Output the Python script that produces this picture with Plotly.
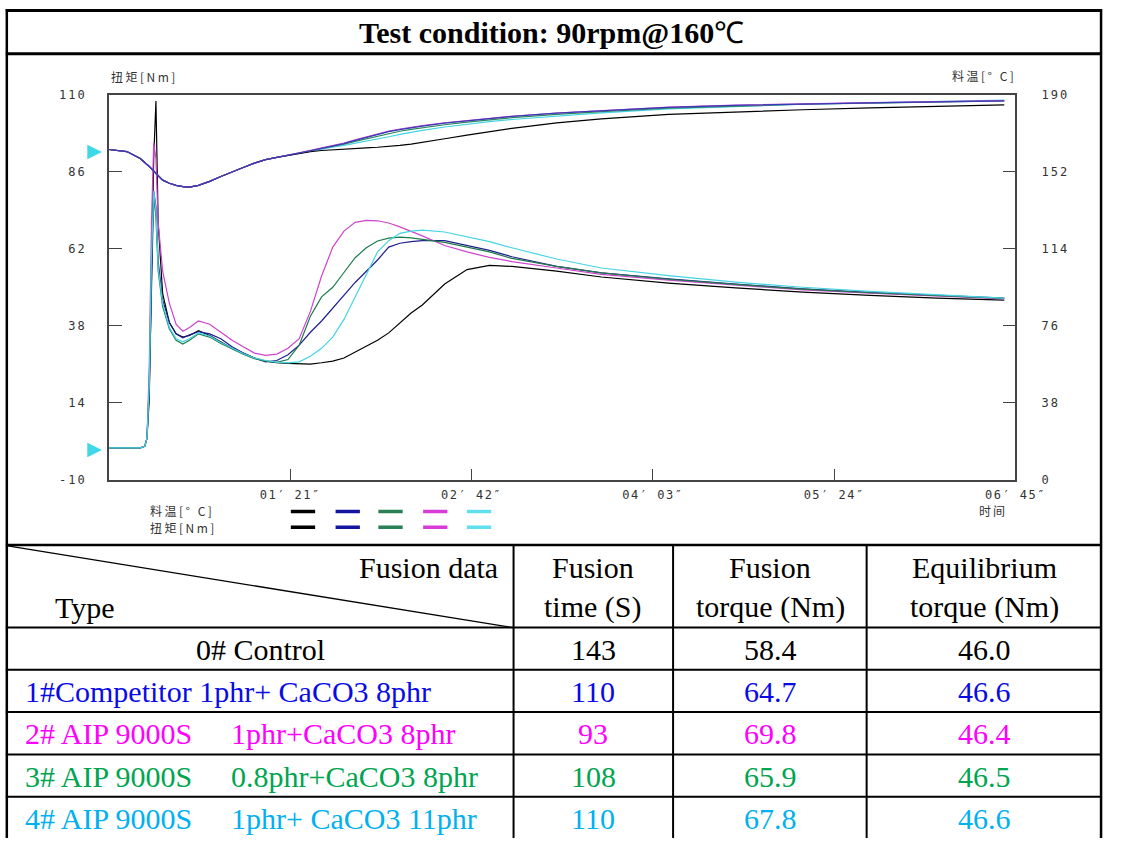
import plotly.graph_objects as go

W, H = 1134, 845

# ---------------- data ----------------
time_s = [0, 8, 14, 16, 17, 18, 19, 20, 21, 22, 24, 27, 30, 33, 36, 40, 45, 50, 55, 60,
          65, 70, 75, 80, 85, 90, 95, 100, 105, 110, 115, 120, 125, 130, 135, 140, 150, 160,
          170, 180, 200, 220, 250, 280, 310, 340, 370, 400]

# torque [Nm]
torque_0 = [0, 0, 0, 0.5, 3, 15, 50, 90, 108, 70, 48, 39, 35.5, 34.5, 35, 36.5, 35, 33, 31, 29.5,
            28, 27, 26.5, 26.3, 26.1, 26.1, 26.5, 27, 28, 29.8, 31.5, 33.5, 35.8, 39, 42, 44.5, 51, 55.5,
            56.8, 56.5, 55, 53.2, 51.3, 49.8, 48.5, 47.5, 46.6, 46.0]
torque_1 = [0, 0, 0, 0.5, 3, 18, 55, 80, 75, 58, 46, 39, 35.5, 34.3, 35.2, 36.2, 35.5, 34, 31.5, 29.5,
            28, 26.8, 27.2, 29, 32, 36, 39.5, 43.5, 47.5, 51.5, 55, 58.5, 62.5, 63.7, 64.2, 64.5, 64.5, 63,
            61.5, 59.5, 56.5, 54.5, 52.6, 51, 49.5, 48.4, 47.4, 46.6]
torque_2 = [0, 0, 0, 0.5, 3, 25, 70, 95, 90, 70, 55, 45, 38.5, 36.3, 37.5, 39.5, 38.5, 36, 33.5, 31.5,
            29.5, 28.8, 29.2, 31, 34, 42.5, 53.5, 62.5, 67.5, 70.2, 70.8, 70.7, 70, 68.8, 67.5, 66, 63, 61,
            59.3, 58, 56, 54, 52.2, 50.6, 49.2, 48.2, 47.2, 46.4]
torque_3 = [0, 0, 0, 0.5, 3, 20, 58, 78, 72, 55, 44, 37, 33.5, 32.3, 33.5, 35.5, 34.5, 32.5, 30.8, 29.2,
            27.8, 27, 26.6, 27.5, 32, 41, 47, 50, 54.6, 59.2, 62.3, 64.4, 65.3, 65.6, 65.4, 65, 64, 62.5,
            61, 59, 56.5, 54.5, 52.5, 50.9, 49.4, 48.3, 47.3, 46.5]
torque_4 = [0, 0, 0, 0.5, 3, 20, 60, 80, 74, 56, 45, 37.5, 34, 33, 34, 35.8, 34.8, 32.8, 31, 29.4,
            28, 27.2, 26.7, 26.5, 26.8, 28.5, 31, 34.5, 40, 47, 54.5, 61, 64.5, 66.8, 67.5, 67.8, 67.2, 65.8,
            64.2, 62.3, 58.8, 56, 53.6, 51.6, 50, 48.7, 47.6, 46.6]

# stock temperature [deg C]
temp_0 = [162.9, 161.9, 158.5, 156.2, 155.5, 154.5, 153.4, 152, 151, 150, 147.8, 146.3, 145.2, 144.6, 144.4, 145.2, 147.2, 149.6, 152, 154,
          156.2, 157.9, 159, 160, 161, 161.8, 162.4, 162.8, 163.1, 163.4, 163.7, 164.0, 164.3, 164.9, 165.6, 166.4, 168.2, 170.0,
          171.7, 173.3, 176.0, 178.0, 180.2, 181.5, 182.5, 183.4, 184.2, 184.9]
temp_1 = [162.9, 161.9, 158.5, 156.2, 155.5, 154.5, 153.4, 152, 151, 150, 147.8, 146.3, 145.2, 144.6, 144.4, 145.2, 147.2, 149.6, 152, 154,
          156.2, 157.9, 159, 160, 161.2, 162.3, 163.5, 164.6, 165.8, 167.4, 168.8, 170.3, 171.7, 172.7, 173.6, 174.4, 175.9, 177.0,
          178.2, 179.2, 180.8, 182.1, 183.7, 184.7, 185.4, 185.9, 186.4, 186.9]
temp_2 = [162.9, 161.9, 158.5, 156.2, 155.5, 154.5, 153.4, 152, 151, 150, 147.8, 146.3, 145.2, 144.6, 144.4, 145.2, 147.2, 149.6, 152, 154,
          156.2, 157.9, 159, 160, 161.3, 162.5, 163.7, 164.9, 166.1, 167.7, 169.1, 170.6, 172.0, 173.0, 173.9, 174.7, 176.1, 177.2,
          178.3, 179.3, 180.9, 182.2, 183.8, 184.8, 185.5, 186.0, 186.5, 187.0]
temp_3 = [162.9, 161.9, 158.5, 156.2, 155.5, 154.5, 153.4, 152, 151, 150, 147.8, 146.3, 145.2, 144.6, 144.4, 145.2, 147.2, 149.6, 152, 154,
          156.2, 157.9, 159, 160, 161.2, 162.3, 163.4, 164.4, 165.5, 166.9, 168.2, 169.6, 170.9, 171.9, 172.8, 173.6, 175.1, 176.4,
          177.6, 178.6, 180.2, 181.6, 183.3, 184.4, 185.2, 185.8, 186.3, 186.8]
temp_4 = [162.9, 161.9, 158.5, 156.2, 155.5, 154.5, 153.4, 152, 151, 150, 147.8, 146.3, 145.2, 144.6, 144.4, 145.2, 147.2, 149.6, 152, 154,
          156.2, 157.9, 159, 160, 161.2, 162.3, 163.3, 164.0, 164.9, 165.9, 166.9, 168.0, 169.2, 170.4, 171.4, 172.3, 174.0, 175.4,
          176.6, 177.7, 179.5, 181.0, 182.9, 184.2, 185.2, 185.9, 186.6, 187.2]

# series order: 0# control, 1# competitor, 2# (magenta), 3# (green), 4# (cyan)
line_colors = ["#000000", "#1E1E8C", "#CC44CC", "#1F7A4D", "#44D4E4"]
temp_colors = ["#000000", "#3A3AB8", "#C848C8", "#2A8A5A", "#44D4E4"]
# legend strip order as on the instrument: black, blue, green, magenta, cyan
legend_colors = ["#000000", "#1414A0", "#2A7F55", "#D83CD8", "#60E0EE"]

torque_ticks = [-10, 14, 38, 62, 86, 110]
temp_ticks = [0, 38, 76, 114, 152, 190]
time_ticks = [81, 162, 243, 324, 405]
time_labels = ["01′ 21″", "02′ 42″", "04′ 03″", "05′ 24″", "06′ 45″"]

title_main = "Test condition: 90rpm@160"
title_unit = "℃"
header_col1_top = "Fusion data"
header_col1_bottom = "Type"
header_top = ["Fusion", "Fusion", "Equilibrium"]
header_bottom = ["time (S)", "torque (Nm)", "torque (Nm)"]
type_part1 = ["0# Control", "1#Competitor 1phr+ CaCO3 8phr", "2# AIP 9000S", "3# AIP 9000S", "4# AIP 9000S"]
type_part2 = ["", "", "1phr+CaCO3 8phr", "0.8phr+CaCO3 8phr", "1phr+ CaCO3 11phr"]
fusion_time = ["143", "110", "93", "108", "110"]
fusion_torque = ["58.4", "64.7", "69.8", "65.9", "67.8"]
equil_torque = ["46.0", "46.6", "46.4", "46.5", "46.6"]
row_colors = ["#000000", "#0A0AE6", "#FF00FF", "#00A550", "#00B0F0"]

# ---------------- helpers ----------------
def px(x):
    return x / W

def py(y):
    return 1 - y / H

def spaced(s, sp=1.5):
    return '<span style="letter-spacing:%spx">%s</span>' % (sp, s)

torques = [torque_0, torque_1, torque_2, torque_3, torque_4]
temps = [temp_0, temp_1, temp_2, temp_3, temp_4]

fig = go.Figure()

# temperature traces: blue drawn last (on top), as on the instrument print
for i in (4, 3, 0, 2, 1):
    fig.add_trace(go.Scatter(x=time_s, y=temps[i], mode="lines", yaxis="y2",
                             line=dict(color=temp_colors[i], width=1.2), hoverinfo="skip"))
for i in range(5):
    fig.add_trace(go.Scatter(x=time_s, y=torques[i], mode="lines", yaxis="y",
                             line=dict(color=line_colors[i], width=1.2), hoverinfo="skip"))

tickfont = dict(family="DejaVu Sans Mono", size=12, color="#333333")
axis_line = "#444444"

fig.update_layout(
    width=W, height=H,
    margin=dict(l=0, r=0, t=0, b=0),
    paper_bgcolor="white", plot_bgcolor="white",
    showlegend=False,
    xaxis=dict(domain=[px(112), px(1044)], range=[0, 405], tickvals=time_ticks,
               ticktext=[spaced(s, 1.5) for s in time_labels],
               showline=True, linecolor=axis_line, linewidth=1.5, mirror=True,
               ticks="inside", ticklen=11, tickcolor=axis_line, tickwidth=1.2,
               showgrid=False, zeroline=False, tickfont=tickfont, ticklabelstandoff=3),
    yaxis=dict(domain=[py(481), py(89)], range=[-10, 110], tickvals=torque_ticks,
               ticktext=[spaced(str(v), 2) for v in torque_ticks],
               showline=True, linecolor=axis_line, linewidth=1.5,
               ticks="inside", ticklen=13, tickcolor=axis_line, tickwidth=1.2,
               showgrid=False, zeroline=False, tickfont=tickfont, ticklabelstandoff=18),
    yaxis2=dict(domain=[py(481), py(89)], range=[0, 190], tickvals=temp_ticks, overlaying="y", side="right",
                ticktext=[spaced(str(v), 2) for v in temp_ticks],
                showline=True, linecolor=axis_line, linewidth=1.5,
                ticks="inside", ticklen=13, tickcolor=axis_line, tickwidth=1.2,
                showgrid=False, zeroline=False, tickfont=tickfont, ticklabelstandoff=22),
)

shapes = []
def hline(y, x0, x1, w=2):
    shapes.append(dict(type="line", xref="paper", yref="paper", x0=px(x0), x1=px(x1), y0=py(y), y1=py(y),
                       line=dict(color="black", width=w)))

def vline(x, y0, y1, w=2):
    shapes.append(dict(type="line", xref="paper", yref="paper", x0=px(x), x1=px(x), y0=py(y0), y1=py(y1),
                       line=dict(color="black", width=w)))

# outer frame and table grid
hline(3.5, 6, 1133, 3)
hline(47.5, 6, 1133, 3)
hline(547, 6, 1133, 2.5)
row_lines = [631, 674, 717, 760, 803]
for yv in row_lines:
    hline(yv, 6, 1133, 2)
vline(7, 2, 845, 2.5)
vline(1132, 2, 845, 2.5)
col_lines = [528, 692, 891]
for xv in col_lines:
    vline(xv, 547, 845, 2)
shapes.append(dict(type="line", xref="paper", yref="paper", x0=px(8), y0=py(548), x1=px(527), y1=py(631),
                   line=dict(color="black", width=1.3)))

# custom legend dashes (two rows: temperature, torque)
legend_x = [299, 345, 389, 435, 480]
for i, lx in enumerate(legend_x):
    for ly in (513, 529):
        shapes.append(dict(type="line", xref="paper", yref="paper", x0=px(lx), x1=px(lx + 25),
                           y0=py(ly), y1=py(ly), line=dict(color=legend_colors[i], width=3.5)))

fig.update_layout(shapes=shapes)

ann = []
def text(x, y, s, size=30, color="black", xanchor="center", family="Liberation Serif"):
    ann.append(dict(xref="paper", yref="paper", x=px(x), y=py(y), text=s,
                    showarrow=False, xanchor=xanchor, yanchor="middle",
                    font=dict(family=family, size=size, color=color)))

text(567, 26, "<b>%s</b>%s" % (title_main, title_unit), size=30)

cjk = "Noto Sans CJK SC"
text(112, 71, spaced("扭矩[Nm]", 2.5), size=12, color="#333333", xanchor="left", family=cjk)
text(977, 70, spaced("料温[° C]", 2.5), size=12, color="#333333", xanchor="left", family=cjk)
text(1021, 512, spaced("时间", 2), size=12, color="#333333", family=cjk)
text(152, 512, spaced("料温[° C]", 2.5), size=12, color="#333333", xanchor="left", family=cjk)
text(152, 529, spaced("扭矩[Nm]", 2.5), size=12, color="#333333", xanchor="left", family=cjk)

# table header
text(514, 570, header_col1_top, xanchor="right")
text(55, 611, header_col1_bottom, xanchor="left")
col_centers = [610, 792, 1012]
for j in range(3):
    text(col_centers[j], 570, header_top[j])
    text(col_centers[j], 610, header_bottom[j])

row_centers = [653, 696, 739, 782, 825]
for i in range(5):
    c = row_colors[i]
    if i == 0:
        text(268, row_centers[i], type_part1[i], color=c)
    else:
        text(24, row_centers[i], type_part1[i], color=c, xanchor="left")
        if type_part2[i]:
            text(235, row_centers[i], type_part2[i], color=c, xanchor="left")
    text(col_centers[0], row_centers[i], fusion_time[i], color=c)
    text(col_centers[1], row_centers[i], fusion_torque[i], color=c)
    text(col_centers[2], row_centers[i], equil_torque[i], color=c)

# cyan start markers just left of the plot frame, at the first values of series 4#
marker_offset = -0.0055  # fraction of the x domain, left of the frame
for yref, val in (("y", torque_4[0]), ("y2", temp_4[0])):
    ann.append(dict(xref="x domain", yref=yref, x=marker_offset, y=val, text="▶", showarrow=False,
                    xanchor="right", yanchor="middle",
                    font=dict(family="DejaVu Sans", size=19, color="#40D8E8")))

fig.update_layout(annotations=ann)

fig.write_html("out.html")
